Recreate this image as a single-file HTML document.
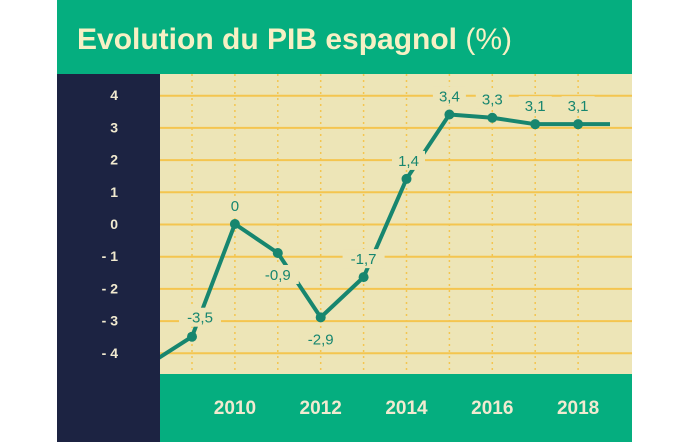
<!DOCTYPE html>
<html><head><meta charset="utf-8"><style>
body{margin:0;background:#fff;}
svg{display:block;}
</style></head><body>
<svg width="690" height="442" viewBox="0 0 690 442" xmlns="http://www.w3.org/2000/svg">
<rect x="57" y="0" width="575" height="74" fill="#05ae7f"/>
<text x="77" y="49" font-family="Liberation Sans Narrow, Liberation Sans, sans-serif" font-weight="bold" font-size="30" fill="#f7f0c4">Evolution du PIB espagnol <tspan font-weight="normal">(%)</tspan></text>
<rect x="57" y="74" width="103" height="368" fill="#1c2342"/>
<rect x="160" y="74" width="472" height="300" fill="#ede5b7"/>
<rect x="160" y="374" width="472" height="68" fill="#05ae7f"/>
<g id="grid"></g>
<g id="yticks"></g>
<g id="xticks"></g>
<defs><clipPath id="pc"><rect x="160" y="74" width="450" height="300"/></clipPath></defs>
<g id="series" clip-path="url(#pc)"></g>
<g id="labels"></g>
</svg>
<script>
const years=[2008,2009,2010,2011,2012,2013,2014,2015,2016,2017,2018,2019];
const values=[-4.35,-3.5,0,-0.9,-2.9,-1.65,1.4,3.4,3.3,3.1,3.1,3.1];
const valueLabels=[null,"-3,5","0","-0,9","-2,9","-1,7","1,4","3,4","3,3","3,1","3,1",null];
const yTicks=[4,3,2,1,0,-1,-2,-3,-4];
const yTickLabels=["4","3","2","1","0","- 1","- 2","- 3","- 4"];
const xTickYears=[2010,2012,2014,2016,2018];
const NS="http://www.w3.org/2000/svg";
const x=y=>192+(y-2009)*42.9;
const yS=v=>224-32.2*v;
function mk(tag,attrs,parent){const e=document.createElementNS(NS,tag);for(const k in attrs)e.setAttribute(k,attrs[k]);document.getElementById(parent).appendChild(e);return e;}
yTicks.forEach((t,i)=>{
  const l=mk("line",{x1:160,x2:632,y1:yS(t)+0.5,y2:yS(t)+0.5,stroke:"#f4c54f","stroke-width":2},"grid");
  
  
  const tx=mk("text",{x:118,y:yS(t)+5,"text-anchor":"end","font-family":"Liberation Sans, sans-serif","font-weight":"bold","font-size":14,fill:"#f1ead0"},"yticks");
  tx.textContent=yTickLabels[i];
  
  
});
for(let yr=2009;yr<=2018;yr++){
  const l=mk("line",{x1:x(yr),x2:x(yr),y1:74,y2:374,stroke:"#f4c54f","stroke-width":1.5,"stroke-dasharray":"2,4"},"grid");
  
  
}
xTickYears.forEach(yr=>{
  const t=mk("text",{x:x(yr),y:414,"text-anchor":"middle","font-family":"Liberation Sans Narrow, Liberation Sans, sans-serif","font-weight":"bold","font-size":19,fill:"#f1ead0"},"xticks");
  t.textContent=yr;
  
  
});
const pts=years.map((yr,i)=>x(yr)+","+yS(values[i])).join(" ");
const pl=mk("polyline",{points:pts,fill:"none",stroke:"#17866f","stroke-width":4,"stroke-linejoin":"round"},"series");


years.forEach((yr,i)=>{
  if(yr<2009||yr>2018)return;
  const c=mk("circle",{cx:x(yr),cy:yS(values[i]),r:5,fill:"#17866f"},"series");
  
  
  const lab=valueLabels[i]; if(!lab)return;
  const below=(yr===2011||yr===2012);
  let lx=x(yr), ly=below?yS(values[i])+27:yS(values[i])-13;
  if(yr===2009){lx+=8;ly=yS(values[i])-14;}
  if(yr===2014){lx+=2;}
  const w=lab.length*9+6;
  const r=mk("rect",{x:lx-w/2,y:ly-15,width:w,height:19,fill:"#ede5b7"},"labels");
  
  
  const t=mk("text",{x:lx,y:ly,"text-anchor":"middle","font-family":"Liberation Sans, sans-serif","font-size":15,fill:"#17866f"},"labels");
  t.textContent=lab;
  
  
});
</script>
</body></html>
